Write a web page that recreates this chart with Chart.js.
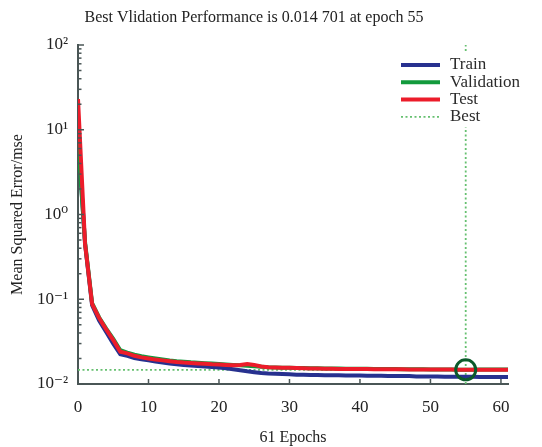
<!DOCTYPE html>
<html><head><meta charset="utf-8">
<script src="https://cdn.jsdelivr.net/npm/chart.js@4/dist/chart.umd.min.js"></script>
<style>html,body{margin:0;padding:0;background:#fff}</style>
</head><body>
<canvas id="c" width="542" height="447"></canvas>
<script>
const epochs = [0,1,2,3,4,5,6,7,8,9,10,11,12,13,14,15,16,17,18,19,20,21,22,23,24,25,26,27,28,29,30,31,32,33,34,35,36,37,38,39,40,41,42,43,44,45,46,47,48,49,50,51,52,53,54,55,56,57,58,59,60,61];
const trainMse = [8.5,0.45,0.085,0.056,0.041,0.030,0.0225,0.0215,0.0203,0.0196,0.0190,0.0184,0.0179,0.0175,0.0171,0.0168,0.0165,0.0163,0.0161,0.0159,0.0157,0.0153,0.0149,0.0145,0.0141,0.0138,0.0135,0.0133,0.0132,0.0131,0.0130,0.0129,0.0129,0.0128,0.0128,0.0127,0.0127,0.0127,0.0126,0.0126,0.0126,0.0125,0.0125,0.0125,0.0124,0.0124,0.0124,0.0124,0.0123,0.0123,0.0123,0.0123,0.0122,0.0122,0.0122,0.0122,0.0122,0.0121,0.0121,0.0121,0.0121,0.0121];
const valMse = [7.5,0.47,0.09,0.061,0.045,0.034,0.025,0.0235,0.0222,0.0213,0.0206,0.0200,0.0195,0.0190,0.0186,0.0183,0.0180,0.0178,0.0176,0.0174,0.0172,0.0170,0.0168,0.0166,0.0164,0.0162,0.0160,0.0158,0.0157,0.0156,0.0155,0.0154,0.0154,0.0153,0.0153,0.0152,0.0152,0.0152,0.0151,0.0151,0.0151,0.0151,0.0150,0.0150,0.0150,0.0150,0.0149,0.0149,0.0149,0.0149,0.0148,0.0148,0.0148,0.0148,0.0147,0.0147,0.0147,0.0148,0.0148,0.0148,0.0148,0.0148];
const testMse = [23,0.45,0.088,0.060,0.044,0.033,0.024,0.0230,0.0215,0.0206,0.0200,0.0194,0.0190,0.0186,0.0182,0.0179,0.0177,0.0175,0.0173,0.0171,0.0170,0.0168,0.0166,0.0168,0.0172,0.0168,0.0161,0.0158,0.0157,0.0156,0.0155,0.0154,0.0153,0.0152,0.0152,0.0151,0.0151,0.0150,0.0150,0.0150,0.0150,0.0150,0.0149,0.0149,0.0149,0.0149,0.0149,0.0148,0.0148,0.0148,0.0148,0.0148,0.0148,0.0148,0.0147,0.0147,0.0147,0.0147,0.0147,0.0147,0.0147,0.0147];
const bestEpoch = 55;
const bestPerf = 0.014701;
const yTickValues = [0.01, 0.1, 1, 10, 100];
const yTickLabels = ['10⁻²', '10⁻¹', '10⁰', '10¹', '10²'];
const xTickValues = [0, 10, 20, 30, 40, 50, 60];
const titleText = 'Best Vlidation Performance is 0.014 701 at epoch 55';

const SERIF = '"Liberation Serif", "DejaVu Serif", serif';
const pts = arr => arr.map((v, i) => ({x: epochs[i], y: v}));

const decor = {
  id: 'decor',
  afterDatasetsDraw(chart) {
    const ctx = chart.ctx, xs = chart.scales.x, ys = chart.scales.y, ca = chart.chartArea;
    ctx.save();
    ctx.strokeStyle = '#4a5656';
    ctx.lineWidth = 1.5;
    for (let k = -2; k <= 2; k++) {
      for (let m = 1; m <= 9; m++) {
        const v = m * Math.pow(10, k);
        if (v > 100 + 1e-9) break;
        const py = ys.getPixelForValue(v);
        ctx.beginPath();
        ctx.moveTo(ca.left, py);
        ctx.lineTo(ca.left + (m === 1 ? 6 : 3.5), py);
        ctx.stroke();
      }
    }
    xTickValues.forEach(v => {
      const px = xs.getPixelForValue(v);
      ctx.beginPath();
      ctx.moveTo(px, ca.bottom);
      ctx.lineTo(px, ca.bottom - 5);
      ctx.stroke();
    });
    const items = chart.data.datasets.filter(d => d.inLegend);
    const lx = 398, ly = 65, row = 17.3;
    ctx.fillStyle = '#ffffff';
    ctx.fillRect(394, 53, 140, 74);
    items.forEach((d, i) => {
      const y = ly + i * row;
      ctx.beginPath();
      ctx.strokeStyle = d.borderColor;
      ctx.lineWidth = d.legendWidth;
      ctx.setLineDash(d.borderDash || []);
      ctx.moveTo(lx + 3, y);
      ctx.lineTo(lx + 42, y);
      ctx.stroke();
      ctx.setLineDash([]);
      ctx.fillStyle = '#2b2b2b';
      ctx.font = '17px ' + SERIF;
      ctx.textBaseline = 'middle';
      ctx.textAlign = 'left';
      ctx.fillText(d.label, lx + 52, y);
    });
    ctx.restore();
  }
};

new Chart(document.getElementById('c'), {
  type: 'line',
  data: {
    datasets: [
      {label: 'Train', inLegend: true, legendWidth: 4, data: pts(trainMse), borderColor: '#27318f', borderWidth: 4, order: 3},
      {label: 'Validation', inLegend: true, legendWidth: 4, data: pts(valMse), borderColor: '#129a3c', borderWidth: 4, order: 2},
      {label: 'Test', inLegend: true, legendWidth: 4, data: pts(testMse), borderColor: '#ec1c2a', borderWidth: 4, order: 1},
      {label: 'Best', inLegend: true, legendWidth: 1.8, data: [{x: epochs[0], y: bestPerf}, {x: epochs[epochs.length - 1], y: bestPerf}], borderColor: '#66c070', borderWidth: 1.8, borderDash: [2, 2.5], order: 4},
      {label: 'BestV', data: [{x: bestEpoch, y: yTickValues[0]}, {x: bestEpoch, y: yTickValues[yTickValues.length - 1]}], borderColor: '#66c070', borderWidth: 1.8, borderDash: [2, 2.5], order: 5},
      {label: 'BestPt', type: 'scatter', data: [{x: bestEpoch, y: bestPerf}], showLine: false, pointRadius: 10, pointBorderWidth: 3, pointBorderColor: '#0b5a2a', pointBackgroundColor: 'rgba(0,0,0,0)', order: 0}
    ]
  },
  options: {
    responsive: false,
    animation: false,
    layout: {padding: {left: 0, right: 34, top: 0, bottom: 0}},
    elements: {line: {tension: 0, fill: false}, point: {radius: 0, hoverRadius: 0}},
    plugins: {
      legend: {display: false},
      tooltip: {enabled: false},
      title: {display: true, text: titleText, color: '#222', font: {family: SERIF, size: 16, weight: 'normal', lineHeight: 1.125}, padding: {top: 9, bottom: 18}}
    },
    scales: {
      x: {
        type: 'linear', min: 0, max: 61,
        afterBuildTicks: s => { s.ticks = xTickValues.map(v => ({value: v})); },
        afterFit: s => { s.height = 63; },
        grid: {display: false, drawTicks: false},
        border: {display: true, color: '#4a5656', width: 2},
        ticks: {color: '#222', font: {family: SERIF, size: 17}, padding: 13, maxRotation: 0},
        title: {display: true, text: '61 Epochs', color: '#222', font: {family: SERIF, size: 16}, padding: {top: 0, bottom: 0}}
      },
      y: {
        type: 'logarithmic', min: 0.01, max: 100,
        afterBuildTicks: s => { s.ticks = yTickValues.map(v => ({value: v})); },
        afterFit: s => { s.width = 78; },
        grid: {display: false, drawTicks: false},
        border: {display: true, color: '#4a5656', width: 2},
        ticks: {color: '#222', font: {family: SERIF, size: 17}, padding: 10, callback: (v) => yTickLabels[yTickValues.indexOf(v)]},
        title: {display: true, text: 'Mean Squared Error/mse', color: '#222', font: {family: SERIF, size: 16}, padding: {top: 8, bottom: 0}}
      }
    }
  },
  plugins: [decor]
});
</script>
</body></html>
